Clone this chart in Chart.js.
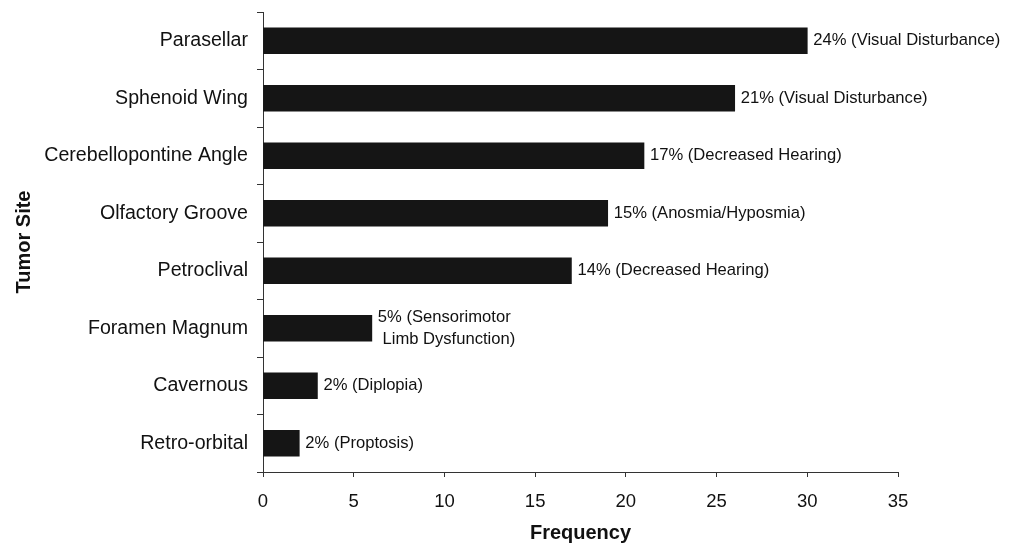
<!DOCTYPE html>
<html>
<head>
<meta charset="utf-8">
<script src="https://cdn.jsdelivr.net/npm/chart.js@4/dist/chart.umd.min.js"></script>
<style>
  body { margin: 0; background: #fff; }
  #wrap { width: 1014px; height: 545px; }
</style>
</head>
<body>
<div id="wrap"><canvas id="chart" width="1014" height="545"></canvas></div>
<script>
// tumor sites, frequency values and the text next to each bar
const sites = ['Parasellar', 'Sphenoid Wing', 'Cerebellopontine Angle', 'Olfactory Groove',
    'Petroclival', 'Foramen Magnum', 'Cavernous', 'Retro-orbital'];
const frequency = [30, 26, 21, 19, 17, 6, 3, 2];
const bar_notes = [
    ['24% (Visual Disturbance)'],
    ['21% (Visual Disturbance)'],
    ['17% (Decreased Hearing)'],
    ['15% (Anosmia/Hyposmia)'],
    ['14% (Decreased Hearing)'],
    ['5% (Sensorimotor', ' Limb Dysfunction)'],
    ['2% (Diplopia)'],
    ['2% (Proptosis)']
];

const font_family = '"Liberation Sans", Arial, Helvetica, sans-serif';

// writes the note text just right of every bar
const note_plugin = {
    id: 'bar_notes',
    afterDatasetsDraw(chart) {
        const ctx = chart.ctx;
        const meta = chart.getDatasetMeta(0);
        ctx.save();
        ctx.font = '16.6px ' + font_family;
        ctx.fillStyle = '#111';
        ctx.textAlign = 'left';
        ctx.textBaseline = 'middle';
        meta.data.forEach((bar, i) => {
            const lines = bar_notes[i];
            const line_h = 22;
            let y0 = bar.y - (lines.length - 1) * line_h / 2;
            lines.forEach((txt, j) => {
                ctx.fillText(txt, bar.x + 6, y0 + j * line_h);
            });
        });
        ctx.restore();
    }
};

new Chart(document.getElementById('chart').getContext('2d'), {
    type: 'bar',
    data: {
        labels: sites,
        datasets: [{
            data: frequency,
            backgroundColor: '#151515',
            borderWidth: 0,
            barThickness: 26
        }]
    },
    options: {
        indexAxis: 'y',
        responsive: false,
        animation: false,
        layout: { padding: { left: 0, top: 12, right: 116, bottom: 0 } },
        plugins: {
            legend: { display: false },
            tooltip: { enabled: false }
        },
        scales: {
            x: {
                min: 0,
                max: 35,
                ticks: {
                    stepSize: 5,
                    color: '#111',
                    padding: 14,
                    font: { family: font_family, size: 18.5 }
                },
                grid: { drawOnChartArea: false, tickLength: 5, color: '#333' },
                border: { color: '#333', width: 1 },
                title: {
                    display: true,
                    text: 'Frequency',
                    color: '#111',
                    padding: { top: 0, bottom: 0 },
                    font: { family: font_family, size: 20, weight: 'bold' }
                },
                afterFit(scale) { scale.height = 73; }
            },
            y: {
                ticks: {
                    color: '#111',
                    padding: 9,
                    font: { family: font_family, size: 19.6 }
                },
                grid: { drawOnChartArea: false, tickLength: 6, color: '#333', offset: true },
                border: { color: '#333', width: 1 },
                title: {
                    display: true,
                    text: 'Tumor Site',
                    color: '#111',
                    padding: { top: 12, bottom: 0 },
                    font: { family: font_family, size: 20, weight: 'bold' }
                },
                afterFit(scale) {
                    scale.width = 263;
                    scale.paddingTop = 0;
                    scale.paddingBottom = 0;
                }
            }
        }
    },
    plugins: [note_plugin]
});
</script>
</body>
</html>
